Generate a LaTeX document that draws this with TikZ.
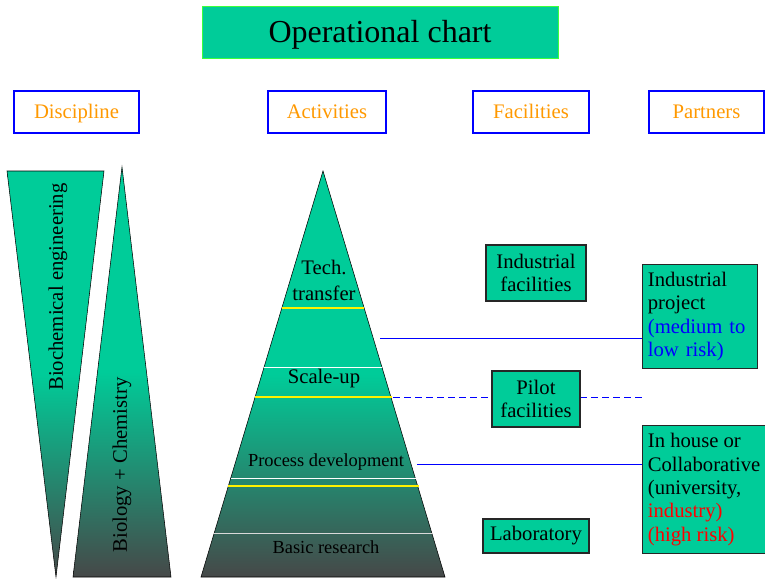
\documentclass[tikz,border=0pt]{standalone}
\usepackage{fontspec}
\setmainfont{Liberation Serif}
\definecolor{mygreen}{RGB}{0,204,153}
\definecolor{botgray}{RGB}{70,72,72}
\definecolor{hdrorange}{RGB}{255,153,0}
\definecolor{titleborder}{RGB}{60,255,60}
\pgfdeclareverticalshading{fade}{100bp}{color(0bp)=(botgray); color(25bp)=(botgray); color(50bp)=(mygreen); color(100bp)=(mygreen)}
\begin{document}
\begin{tikzpicture}[x=0.75pt, y=-0.75pt,
    every node/.style={font=\fontsize{15.5}{17.5}\selectfont},
    header/.style={draw=blue, thick, fill=white, text=hdrorange, minimum width=#1, minimum height=31.5pt, text height=13.5pt, text depth=3.5pt},
    facbox/.style={draw=black!85, thick, fill=mygreen, align=center, inner sep=0pt, minimum width=#1},
    partbox/.style={draw=black!85, thick, fill=mygreen, align=left, anchor=north west, inner xsep=4pt, inner ysep=4pt},
    wedge/.style={shading=fade, draw=black, thin},
    level/.style={yellow, line width=2.2pt},
    split/.style={white, thin},
    link/.style={blue, thin}]
    \useasboundingbox (0,0) rectangle (765,579);
    % title and column headers
    \node[draw=titleborder, fill=mygreen, minimum width=267pt, minimum height=39pt, text height=21pt, text depth=5pt, font=\fontsize{24}{28}\selectfont] (T) at (380, 32) {Operational chart};
    \node[header=93.75pt] (D) at (76.5, 112) {Discipline};
    \node[header=88.5pt] (A) at (327, 112) {Activities};
    \node[header=87pt] (F) at (531, 112) {Facilities};
    \node[header=86.25pt] (P) at (706.5, 112) {Partners};
    % discipline wedges
    \shade[wedge] (7, 171) -- (104, 171) -- (56, 577) -- cycle;
    \shade[wedge] (122, 167) -- (171, 577) -- (73, 577) -- cycle;
    \node[rotate=90] (BE) at (58, 287) {Biochemical engineering};
    \node[rotate=90] (BC) at (122, 465) {Biology + Chemistry};
    % activities pyramid
    \shade[wedge] (323, 171) -- (445, 577) -- (201, 577) -- cycle;
    \draw[level] (282, 308) -- (364, 308);
    \draw[split] (264, 367) -- (382, 367);
    \draw[level] (255, 397) -- (392, 397);
    \draw[split] (231, 478) -- (416, 478);
    \draw[level] (228, 486) -- (419, 486);
    \draw[split, white!70!gray] (213, 533) -- (433, 533);
    \node[align=center, inner sep=0pt, font=\fontsize{15.5}{19.5}\selectfont] (TT) at (324, 280) {Tech.\\transfer};
    \node[text height=13.5pt, text depth=3.5pt] (SU) at (324, 377) {Scale-up};
    \node[font=\fontsize{13.8}{16}\selectfont] (PD) at (326, 462) {Process development};
    \node[font=\fontsize{13.8}{16}\selectfont] (BR) at (326, 547) {Basic research};
    % partners
    \node[partbox, text width=78pt, minimum height=78pt] (IP) at (642, 264) {Industrial\\project\\\textcolor{blue}{(medium to}\\\textcolor{blue}{low risk)}};
    \node[partbox, minimum width=92pt, minimum height=96pt] (IH) at (642, 425) {In house or\\Collaborative\\(university,\\\textcolor{red}{industry)}\\\textcolor{red}{(high risk)}};
    % links from the pyramid
    \coordinate (e1) at (380, 338);
    \coordinate (e2) at (393, 397);
    \coordinate (e3) at (417, 464);
    \draw[link] (e1) -- (e1 -| IP.west);
    \draw[link, line width=0.6pt, dash pattern=on 5.25pt off 3pt] (e2) -- (e2 -| IP.west);
    \draw[link] (e3) -- (e3 -| IH.west);
    % facilities
    \node[facbox=75pt, minimum height=42pt] (IF) at (536, 273) {Industrial\\facilities};
    \node[facbox=66pt, minimum height=42pt] (PF) at (536, 399) {Pilot\\facilities};
    \node[facbox=79.5pt, minimum height=25.5pt] (LB) at (536, 536) {Laboratory};
\end{tikzpicture}
\end{document}
